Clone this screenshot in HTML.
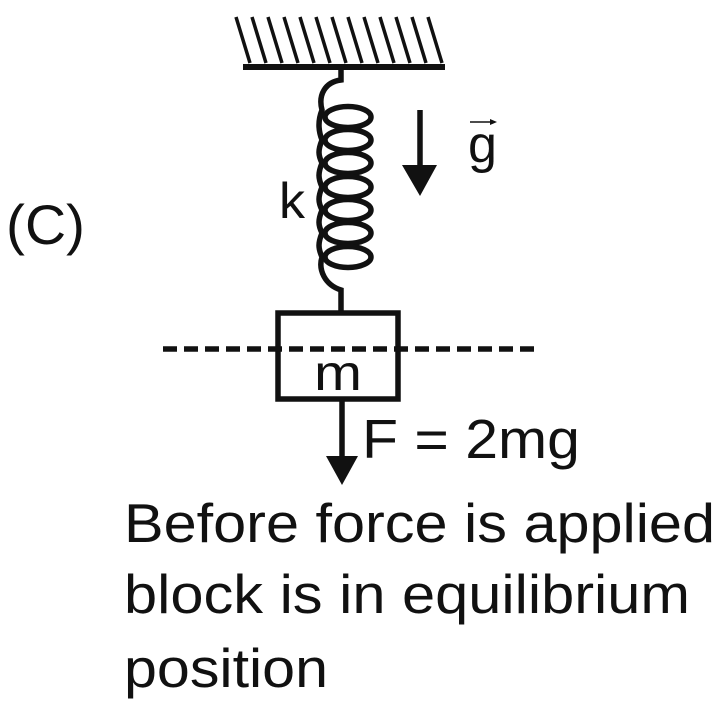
<!DOCTYPE html>
<html><head><style>
body{margin:0;background:#fff;width:728px;height:710px;overflow:hidden;font-family:"Liberation Sans",sans-serif}
</style></head><body>
<svg width="728" height="710" viewBox="0 0 728 710" xmlns="http://www.w3.org/2000/svg">
<g stroke="#111" stroke-width="3.5" fill="none">
<path d="M236 17 L250 63 M252 17 L266 63 M268 17 L282 63 M284 17 L298 63 M300 17 L314 63 M316 17 L330 63 M332 17 L346 63 M348 17 L362 63 M364 17 L378 63 M380 17 L394 63 M396 17 L410 63 M412 17 L426 63 M428 17 L442 63"/>
</g>
<rect x="243" y="64" width="202" height="6" fill="#111"/>
<g stroke="#111" stroke-width="5.5" fill="none">
<path d="M341 70 L341 80 C325 82 318 95 322 110 C318 120 318 130 322 140 C318 150 318 155 322 163 C318 173 318 178 322 187 C318 197 318 202 322 210 C318 220 318 225 322 233 C318 243 318 248 322 257 C318 270 325 285 341 290 L341 312"/>
<ellipse cx="348" cy="117" rx="23" ry="10.5"/>
<ellipse cx="348" cy="140" rx="23" ry="10.5"/>
<ellipse cx="348" cy="163" rx="23" ry="10.5"/>
<ellipse cx="348" cy="187" rx="23" ry="10.5"/>
<ellipse cx="348" cy="210" rx="23" ry="10.5"/>
<ellipse cx="348" cy="233" rx="23" ry="10.5"/>
<ellipse cx="348" cy="257" rx="23" ry="10.5"/>
<rect x="278" y="313" width="120" height="86"/>
<line x1="163" y1="349" x2="540" y2="349" stroke-dasharray="14 7"/>
<line x1="342" y1="399" x2="342" y2="460"/>
<line x1="420" y1="110" x2="420" y2="168"/>
</g>
<polygon points="326,456 358,456 342,485" fill="#111"/>
<polygon points="402,165 437,165 420,196" fill="#111"/>
<line x1="470" y1="122" x2="494" y2="122" stroke="#111" stroke-width="1.5"/>
<polygon points="490,119 497,122 490,125" fill="#111"/>
<g fill="#111" font-family="Liberation Sans, sans-serif">
<text x="6" y="244" font-size="56" textLength="79" lengthAdjust="spacingAndGlyphs">(C)</text>
<text x="279" y="218" font-size="50" textLength="26" lengthAdjust="spacingAndGlyphs">k</text>
<text x="468" y="162" font-size="52" textLength="29" lengthAdjust="spacingAndGlyphs">g</text>
<text x="314" y="390" font-size="50" textLength="48" lengthAdjust="spacingAndGlyphs">m</text>
<text x="362" y="458" font-size="55" textLength="218" lengthAdjust="spacingAndGlyphs">F = 2mg</text>
<text x="124" y="542" font-size="55" textLength="591" lengthAdjust="spacingAndGlyphs">Before force is applied</text>
<text x="124" y="613" font-size="55" textLength="566" lengthAdjust="spacingAndGlyphs">block is in equilibrium</text>
<text x="124" y="687" font-size="55" textLength="204" lengthAdjust="spacingAndGlyphs">position</text>
</g>
</svg>
</body></html>
